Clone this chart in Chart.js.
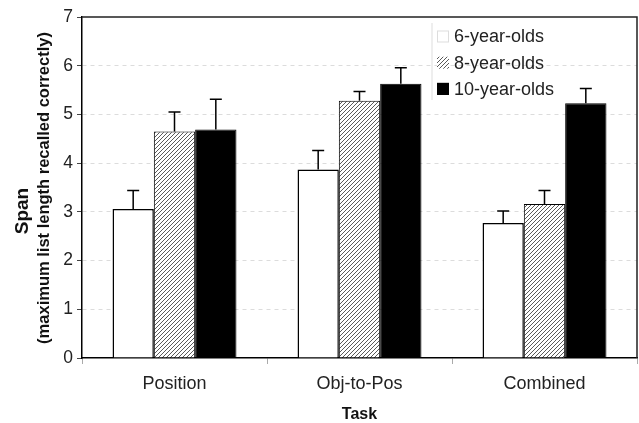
<!DOCTYPE html>
<html>
<head>
<meta charset="utf-8">
<script src="https://cdn.jsdelivr.net/npm/chart.js@4.4.0/dist/chart.umd.min.js"></script>
<style>
  html, body { margin: 0; padding: 0; background: #fff; }
</style>
</head>
<body>
<canvas id="chart" width="639" height="423"></canvas>
<script>
// values
const tasks = ["Position", "Obj-to-Pos", "Combined"];
const ageGroups = ["6-year-olds", "8-year-olds", "10-year-olds"];
const span6 = [3.06, 3.87, 2.77];
const span8 = [4.65, 5.28, 3.16];
const span10 = [4.69, 5.63, 5.23];
const err6 = [0.38, 0.39, 0.25];
const err8 = [0.40, 0.19, 0.28];
const err10 = [0.62, 0.33, 0.30];
const yTicks = [0, 1, 2, 3, 4, 5, 6, 7];

const FONT = "'Liberation Sans', Arial, sans-serif";
const canvas = document.getElementById("chart");
const ctx = canvas.getContext("2d");

function makeHatch() {
  const c = document.createElement("canvas");
  c.width = 4;
  c.height = 4;
  const g = c.getContext("2d");
  g.fillStyle = "#fff";
  g.fillRect(0, 0, 4, 4);
  g.strokeStyle = "#5a5a5a";
  g.lineWidth = 1;
  g.beginPath();
  g.moveTo(0, 4); g.lineTo(4, 0);
  g.moveTo(-1, 1); g.lineTo(1, -1);
  g.moveTo(3, 5); g.lineTo(5, 3);
  g.stroke();
  return ctx.createPattern(c, "repeat");
}
const hatch = makeHatch();

const errors = [err6, err8, err10];

const errorBars = {
  id: "errorBars",
  afterDatasetsDraw(chart) {
    const c = chart.ctx;
    const y = chart.scales.y;
    c.save();
    c.strokeStyle = "#000";
    c.lineWidth = 1.5;
    chart.data.datasets.forEach((ds, i) => {
      chart.getDatasetMeta(i).data.forEach((bar, j) => {
        const top = y.getPixelForValue(ds.data[j] + errors[i][j]);
        c.beginPath();
        c.moveTo(bar.x, bar.y);
        c.lineTo(bar.x, top);
        c.moveTo(bar.x - 6, top);
        c.lineTo(bar.x + 6, top);
        c.stroke();
      });
    });
    c.restore();
  },
};

const frameAndText = {
  id: "frameAndText",
  afterDraw(chart) {
    const c = chart.ctx;
    const a = chart.chartArea;
    c.save();
    // top and right frame
    c.strokeStyle = "#222";
    c.lineWidth = 1.5;
    c.beginPath();
    c.moveTo(a.left, a.top);
    c.lineTo(a.right, a.top);
    c.lineTo(a.right, a.bottom);
    c.stroke();

    // legend
    c.strokeStyle = "#ddd";
    c.lineWidth = 1;
    c.beginPath();
    c.moveTo(432, 23);
    c.lineTo(432, 100);
    c.stroke();
    const fills = ["#fff", hatch, "#000"];
    c.font = "18px " + FONT;
    c.textBaseline = "middle";
    ageGroups.forEach((name, i) => {
      const cy = 36.5 + i * 26.2;
      c.fillStyle = fills[i];
      c.fillRect(437, cy - 6, 12, 12);
      if (i !== 1) {
        c.strokeStyle = i === 0 ? "#ddd" : "#000";
        c.strokeRect(437.5, cy - 5.5, 11, 11);
      }
      c.fillStyle = "#222";
      c.fillText(name, 454, cy + 1);
    });

    // axis titles
    c.fillStyle = "#111";
    c.textAlign = "center";
    c.textBaseline = "alphabetic";
    c.font = "bold 16px " + FONT;
    c.fillText("Task", (a.left + a.right) / 2, 419);
    c.save();
    c.translate(28, 211);
    c.rotate(-Math.PI / 2);
    c.font = "bold 19px " + FONT;
    c.fillText("Span", 0, 0);
    c.restore();
    c.save();
    c.translate(48.5, 188);
    c.rotate(-Math.PI / 2);
    c.font = "bold 16.5px " + FONT;
    c.fillText("(maximum list length recalled correctly)", 0, 0);
    c.restore();
    c.restore();
  },
};

new Chart(ctx, {
  type: "bar",
  data: {
    labels: tasks,
    datasets: [
      { label: ageGroups[0], data: span6, backgroundColor: "#fff", borderColor: "#000", borderWidth: 1.5 },
      { label: ageGroups[1], data: span8, backgroundColor: hatch, borderColor: "#000", borderWidth: 1 },
      { label: ageGroups[2], data: span10, backgroundColor: "#000", borderColor: "#000", borderWidth: 1 },
    ],
  },
  options: {
    responsive: false,
    animation: false,
    devicePixelRatio: 1,
    layout: { padding: { top: 17, right: 2, left: 0, bottom: 0 } },
    datasets: { bar: { categoryPercentage: 0.67, barPercentage: 1.0 } },
    plugins: { legend: { display: false }, tooltip: { enabled: false } },
    scales: {
      x: {
        grid: { display: true, drawOnChartArea: false, offset: true, tickLength: 6, color: "#aaa" },
        border: { display: true, color: "#000", width: 1.5 },
        ticks: { color: "#222", font: { family: FONT, size: 18 }, padding: 9 },
        afterFit: (s) => { s.height = 65; },
      },
      y: {
        min: 0,
        max: 7,
        afterBuildTicks: (s) => { s.ticks = yTicks.map((v) => ({ value: v })); },
        grid: {
          color: (c) => (c.tick && (c.tick.value === 0 || c.tick.value === 7) ? "rgba(0,0,0,0)" : "#dcdcdc"),
          tickColor: "#444",
          tickLength: 5,
          lineWidth: 1,
        },
        border: { display: true, color: "#000", width: 1.5, dash: [4, 4] },
        ticks: { color: "#222", font: { family: FONT, size: 17.5 }, padding: 4 },
        afterFit: (s) => { s.width = 82; },
      },
    },
  },
  plugins: [errorBars, frameAndText],
});
</script>
</body>
</html>
